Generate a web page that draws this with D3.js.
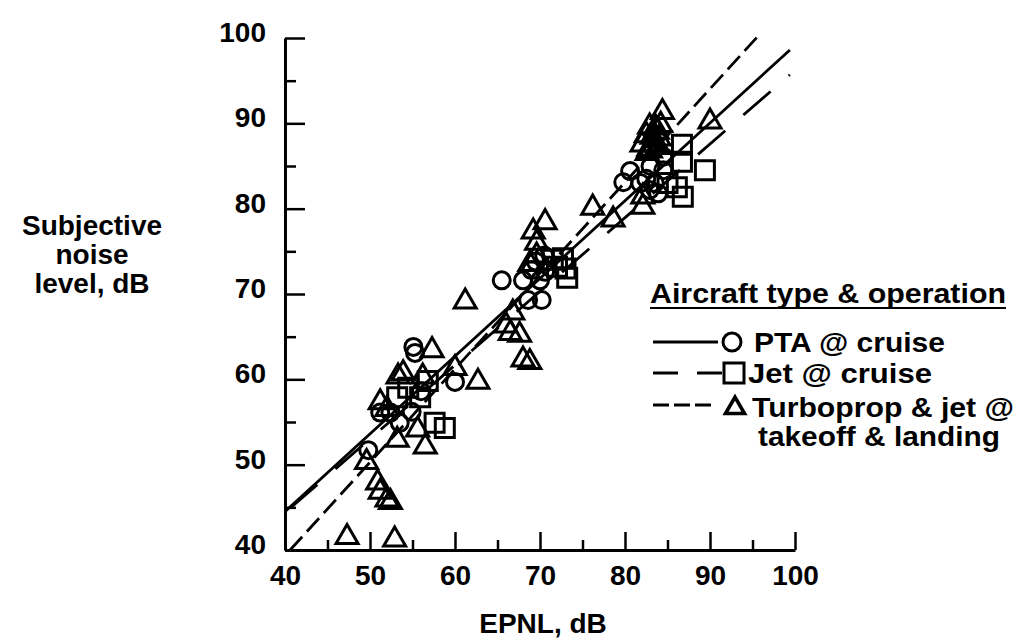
<!DOCTYPE html>
<html><head><meta charset="utf-8">
<script src="https://cdn.jsdelivr.net/npm/d3@7"></script>
<style>body{margin:0;background:#fff}svg{display:block}text{font-family:"Liberation Sans",Arial,sans-serif;font-weight:bold;fill:#000}</style>
</head><body>
<svg id="c" width="1022" height="641"></svg>
<script>
// ---- data ----
const xMajorTicks = [40, 50, 60, 70, 80, 90, 100];
const xMinorTicks = [45, 55, 65, 75, 85, 95];
const yMajorTicks = [40, 50, 60, 70, 80, 90, 100];
const yMinorTicks = [45, 55, 65, 75, 85, 95];

const ptaPoints = [
  [49.8,51.7],[51.2,56.1],[52.4,56.1],[53.5,54.9],[54.9,56.2],[55.1,63.8],[55.3,63.1],[56.0,58.6],[60.0,59.7],
  [65.5,71.6],[68.0,71.6],[70.0,71.6],[68.6,69.3],[70.2,69.3],[69.5,73.8],[70.5,74.5],[69.0,72.8],[70.6,72.6],
  [79.8,83.1],[80.6,84.4],[81.8,83.0],[82.9,82.2],[83.9,81.8],[84.5,84.5],[84.5,86.1],[83.0,85.0],[82.5,83.5],
  [83.5,83.0]
];
const jetPoints = [
  [53.2,57.9],[55.9,57.9],[54.5,59.0],[57.6,54.9],[58.8,54.3],[56.8,59.8],
  [72.0,73.2],[72.7,74.2],[73.2,71.9],[71.5,74.0],[73.0,73.0],
  [86.7,87.5],[86.7,85.5],[89.4,84.5],[86.8,81.4],[86.1,82.5],[85.0,83.0]
];
const turboPoints = [
  [47.3,41.5],[52.9,41.2],[50.9,47.9],[51.2,46.8],[52.0,45.9],[52.4,45.6],[49.6,50.3],[53.2,52.9],[56.5,52.1],
  [55.6,54.1],[51.2,57.3],[53.3,60.3],[53.9,60.7],[56.2,60.3],[57.3,63.4],[60.0,61.3],[62.7,59.7],[61.2,69.1],[52.0,56.5],
  [66.0,66.3],[66.5,65.4],[67.6,65.2],[68.0,62.3],[68.8,62.0],[66.8,67.8],[69.2,77.3],[70.6,78.4],[69.6,76.0],
  [69.6,74.5],[68.8,73.5],[76.2,80.1],[78.6,78.7],
  [84.4,91.3],[90.0,90.2],[82.9,89.6],[83.2,88.4],[82.0,87.5],[83.3,87.5],[83.8,89.0],[82.6,86.5],[82.1,81.4],
  [82.1,80.2],[83.5,88.0],[84.0,88.2],[82.5,88.6],[83.0,86.8],[83.6,89.5],[84.2,89.8],[83.8,87.2],[82.8,87.0]
];
const ptaLine = [[40,44.5],[99.4,98.6]];
const jetLine = [[40.6,44.9],[99.4,95.7]];
const turboLine = [[40.6,40.0],[96.0,100.6]];

const yTitle = ["Subjective", "noise", "level, dB"];
const xTitle = "EPNL, dB";
const legendTitle = "Aircraft type & operation";
const legendLabels = ["PTA @ cruise", "Jet @ cruise", "Turboprop & jet @", "takeoff & landing"];

// ---- drawing ----
const svg = d3.select("#c");
const x = d3.scaleLinear().domain([40, 100]).range([285, 795]);
const y = d3.scaleLinear().domain([40, 100]).range([550, 38]);
const FS = 28;

// axes
const gy = svg.append("g").attr("transform", `translate(${x(40)},0)`)
  .call(d3.axisLeft(y).tickValues(yMajorTicks).tickSize(-20).tickSizeOuter(0).tickPadding(19).tickFormat(d3.format("d")));
const gyMinor = svg.append("g").attr("transform", `translate(${x(40)},0)`)
  .call(d3.axisLeft(y).tickValues(yMinorTicks).tickSize(-11).tickFormat(""));
gyMinor.select(".domain").remove();
const gx = svg.append("g").attr("transform", `translate(0,${y(40)})`)
  .call(d3.axisBottom(x).tickValues(xMajorTicks).tickSize(-18).tickSizeOuter(0).tickPadding(15).tickFormat(d3.format("d")));
const gxMinor = svg.append("g").attr("transform", `translate(0,${y(40)})`)
  .call(d3.axisBottom(x).tickValues(xMinorTicks).tickSize(-10).tickFormat(""));
gxMinor.select(".domain").remove();

svg.selectAll(".domain").attr("stroke", "#000").attr("stroke-width", 3);
svg.selectAll(".tick line").attr("stroke", "#000").attr("stroke-width", 2.5);
svg.selectAll(".tick text").attr("font-size", FS).attr("font-family", '"Liberation Sans",Arial,sans-serif')
  .attr("font-weight", "bold").attr("fill", "#000");
gy.selectAll(".tick text").attr("dy", "0.12em");

// regression lines
const line = d3.line().x(d => x(d[0])).y(d => y(d[1]));
svg.append("path").datum(ptaLine).attr("d", line).attr("fill", "none").attr("stroke", "#000").attr("stroke-width", 2.8);
svg.append("path").datum(jetLine).attr("d", line).attr("fill", "none").attr("stroke", "#000").attr("stroke-width", 2.8)
  .attr("stroke-dasharray", "36,24");
svg.append("path").datum(turboLine).attr("d", line).attr("fill", "none").attr("stroke", "#000").attr("stroke-width", 2.8)
  .attr("stroke-dasharray", "18,7");

// markers
const sq = d3.symbol().type(d3.symbolSquare).size(19 * 19);
const tri = d3.symbol().type(d3.symbolTriangle).size(Math.sqrt(3) / 4 * 22 * 22);
svg.append("g").selectAll("circle").data(ptaPoints).join("circle")
  .attr("cx", d => x(d[0])).attr("cy", d => y(d[1])).attr("r", 8.5)
  .attr("fill", "none").attr("stroke", "#000").attr("stroke-width", 3);
svg.append("g").selectAll("path").data(jetPoints).join("path")
  .attr("d", sq).attr("transform", d => `translate(${x(d[0])},${y(d[1])})`)
  .attr("fill", "none").attr("stroke", "#000").attr("stroke-width", 3);
svg.append("g").selectAll("path").data(turboPoints).join("path")
  .attr("d", tri).attr("transform", d => `translate(${x(d[0])},${y(d[1])})`)
  .attr("fill", "none").attr("stroke", "#000").attr("stroke-width", 3).attr("stroke-linejoin", "miter");

// axis titles
svg.append("g").selectAll("text").data(yTitle).join("text")
  .attr("x", 92).attr("y", (d, i) => 235 + i * 29).attr("text-anchor", "middle").attr("font-size", FS).text(d => d);
svg.append("text").attr("x", 543).attr("y", 633).attr("text-anchor", "middle").attr("font-size", FS).text(xTitle);

// legend
const lg = svg.append("g");
lg.append("text").attr("x", 650).attr("y", 303).attr("font-size", 27)
  .attr("textLength", 356).attr("lengthAdjust", "spacingAndGlyphs").text(legendTitle);
lg.append("line").attr("x1", 650).attr("x2", 1006).attr("y1", 308).attr("y2", 308).attr("stroke", "#000").attr("stroke-width", 2.2);

lg.append("line").attr("x1", 653).attr("x2", 718).attr("y1", 342).attr("y2", 342).attr("stroke", "#000").attr("stroke-width", 2.8);
lg.append("circle").attr("cx", 732).attr("cy", 342).attr("r", 9).attr("fill", "none").attr("stroke", "#000").attr("stroke-width", 3);
lg.append("text").attr("x", 754).attr("y", 352).attr("font-size", FS)
  .attr("textLength", 191).attr("lengthAdjust", "spacingAndGlyphs").text(legendLabels[0]);

lg.append("line").attr("x1", 653).attr("x2", 722).attr("y1", 373).attr("y2", 373).attr("stroke", "#000").attr("stroke-width", 2.8)
  .attr("stroke-dasharray", "25,19");
lg.append("path").attr("d", d3.symbol().type(d3.symbolSquare).size(20 * 20)()).attr("transform", "translate(734,373)")
  .attr("fill", "none").attr("stroke", "#000").attr("stroke-width", 3);
lg.append("text").attr("x", 748).attr("y", 383).attr("font-size", FS)
  .attr("textLength", 184).attr("lengthAdjust", "spacingAndGlyphs").text(legendLabels[1]);

lg.append("line").attr("x1", 653).attr("x2", 712).attr("y1", 405).attr("y2", 405).attr("stroke", "#000").attr("stroke-width", 2.8)
  .attr("stroke-dasharray", "16,5");
lg.append("path").attr("d", d3.symbol().type(d3.symbolTriangle).size(Math.sqrt(3) / 4 * 19 * 19)()).attr("transform", "translate(735,408)")
  .attr("fill", "none").attr("stroke", "#000").attr("stroke-width", 3.6);
lg.append("text").attr("x", 752).attr("y", 417).attr("font-size", FS)
  .attr("textLength", 262).attr("lengthAdjust", "spacingAndGlyphs").text(legendLabels[2]);
lg.append("text").attr("x", 758).attr("y", 446).attr("font-size", FS)
  .attr("textLength", 242).attr("lengthAdjust", "spacingAndGlyphs").text(legendLabels[3]);
</script>
</body></html>
